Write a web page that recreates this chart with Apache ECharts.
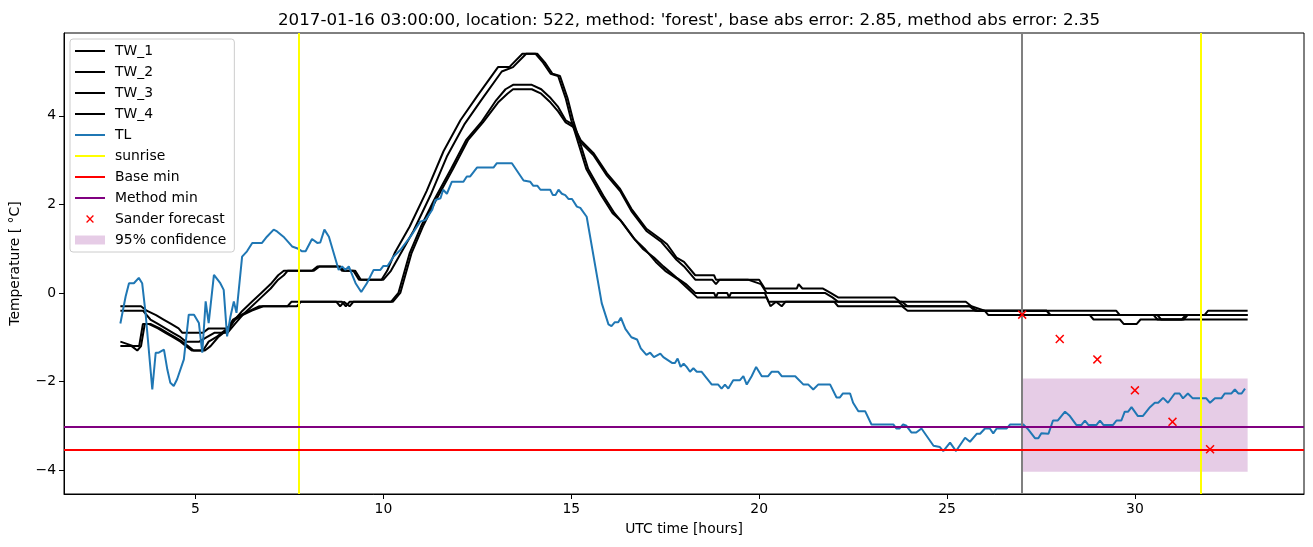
<!DOCTYPE html>
<html><head><meta charset="utf-8">
<script src="https://cdn.jsdelivr.net/npm/echarts@6/dist/echarts.min.js"></script>
<style>html,body{margin:0;padding:0;background:#fff}#c{width:1313px;height:547px}</style>
</head><body><div id="c"></div>
<script>
const TITLE = "2017-01-16 03:00:00, location: 522, method: 'forest', base abs error: 2.85, method abs error: 2.35";
const X_NAME = "UTC time [hours]";
const Y_NAME = "Temperature [ °C]";
const xTicks = [5, 10, 15, 20, 25, 30];
const yTicks = [-4, -2, 0, 2, 4];
const xRange = [1.5, 34.5];
const yRange = [-4.54, 5.87];

const tl = [[3.0,-0.69],[3.14,-0.08],[3.23,0.22],[3.36,0.22],[3.4,0.26],[3.49,0.34],[3.58,0.22],[3.67,-0.45],[3.85,-2.18],[3.94,-1.35],[4.02,-1.35],[4.16,-1.28],[4.25,-1.73],[4.33,-2.03],[4.42,-2.1],[4.51,-1.95],[4.69,-1.5],[4.82,-0.49],[4.96,-0.49],[5.09,-0.68],[5.18,-1.35],[5.27,-0.19],[5.35,-0.68],[5.49,0.41],[5.66,0.22],[5.75,0.07],[5.84,-0.98],[5.93,-0.53],[6.02,-0.19],[6.09,-0.45],[6.24,0.82],[6.37,0.94],[6.51,1.13],[6.77,1.13],[6.9,1.27],[7.08,1.43],[7.17,1.39],[7.34,1.27],[7.57,1.05],[7.7,1.01],[7.84,0.94],[7.93,0.94],[8.1,1.22],[8.24,1.13],[8.32,1.14],[8.43,1.43],[8.55,1.27],[8.81,0.52],[8.9,0.6],[8.99,0.52],[9.08,0.6],[9.17,0.41],[9.26,0.22],[9.41,0.02],[9.56,0.22],[9.74,0.52],[9.92,0.52],[10.0,0.61],[10.11,0.61],[10.27,0.82],[10.45,0.97],[10.72,1.27],[10.98,1.61],[11.12,1.65],[11.3,1.88],[11.38,2.1],[11.52,2.14],[11.59,2.33],[11.69,2.24],[11.82,2.51],[12.13,2.51],[12.22,2.63],[12.31,2.63],[12.49,2.83],[12.93,2.83],[13.02,2.93],[13.42,2.93],[13.73,2.54],[13.91,2.51],[13.99,2.42],[14.1,2.42],[14.18,2.33],[14.44,2.33],[14.51,2.21],[14.58,2.21],[14.66,2.33],[14.75,2.24],[14.84,2.21],[14.93,2.12],[15.02,2.12],[15.15,1.95],[15.24,1.92],[15.41,1.72],[15.81,-0.23],[15.99,-0.71],[16.07,-0.75],[16.16,-0.66],[16.25,-0.66],[16.32,-0.56],[16.44,-0.81],[16.6,-1.0],[16.75,-1.05],[16.85,-1.25],[17.0,-1.4],[17.1,-1.35],[17.2,-1.45],[17.37,-1.37],[17.45,-1.45],[17.68,-1.58],[17.76,-1.58],[17.83,-1.48],[17.91,-1.67],[17.99,-1.6],[18.07,-1.67],[18.16,-1.78],[18.25,-1.7],[18.34,-1.78],[18.47,-1.78],[18.74,-2.07],[18.91,-2.07],[19.0,-2.16],[19.09,-2.07],[19.18,-2.16],[19.31,-1.97],[19.49,-1.97],[19.58,-1.88],[19.67,-2.07],[19.8,-1.88],[19.92,-1.67],[20.07,-1.88],[20.24,-1.88],[20.33,-1.78],[20.51,-1.78],[20.6,-1.88],[20.96,-1.88],[21.18,-2.07],[21.31,-2.07],[21.44,-2.18],[21.57,-2.07],[21.89,-2.07],[22.06,-2.36],[22.15,-2.36],[22.23,-2.27],[22.42,-2.27],[22.5,-2.48],[22.64,-2.67],[22.82,-2.67],[22.99,-2.97],[23.57,-2.97],[23.65,-3.06],[23.74,-3.06],[23.83,-2.97],[23.92,-3.0],[24.05,-3.15],[24.18,-3.15],[24.32,-3.06],[24.64,-3.45],[24.81,-3.48],[24.9,-3.57],[25.08,-3.38],[25.24,-3.57],[25.48,-3.27],[25.61,-3.36],[25.79,-3.18],[25.88,-3.18],[26.01,-3.06],[26.14,-3.06],[26.23,-3.17],[26.32,-3.06],[26.59,-3.06],[26.68,-2.97],[27.03,-2.97],[27.16,-3.08],[27.34,-3.28],[27.43,-3.28],[27.51,-3.17],[27.7,-3.18],[27.82,-2.88],[27.95,-2.88],[28.14,-2.68],[28.27,-2.78],[28.44,-2.98],[28.58,-2.98],[28.67,-2.88],[28.76,-2.98],[28.98,-2.98],[29.07,-2.88],[29.16,-2.98],[29.42,-2.98],[29.51,-2.88],[29.64,-2.88],[29.73,-2.68],[29.82,-2.68],[29.91,-2.58],[30.08,-2.78],[30.21,-2.78],[30.4,-2.58],[30.53,-2.48],[30.62,-2.48],[30.75,-2.37],[30.88,-2.48],[31.06,-2.27],[31.19,-2.27],[31.28,-2.38],[31.41,-2.27],[31.54,-2.38],[31.9,-2.38],[32.0,-2.48],[32.13,-2.38],[32.3,-2.38],[32.39,-2.27],[32.57,-2.27],[32.66,-2.18],[32.75,-2.27],[32.84,-2.27],[32.93,-2.16]];

const tw1 = [[3.0,-0.3],[3.55,-0.3],[3.7,-0.4],[3.95,-0.5],[4.15,-0.6],[4.35,-0.7],[4.55,-0.8],[4.65,-0.9],[5.2,-0.9],[5.35,-0.8],[5.85,-0.8],[6.05,-0.6],[6.25,-0.4],[6.5,-0.2],[6.75,0.0],[7.0,0.2],[7.2,0.4],[7.35,0.5],[8.1,0.5],[8.25,0.6],[8.85,0.6],[8.95,0.5],[9.2,0.5],[9.35,0.3],[9.95,0.3],[10.1,0.5],[10.3,0.9],[10.7,1.5],[11.15,2.3],[11.6,3.2],[12.05,3.9],[12.5,4.45],[13.05,5.1],[13.35,5.1],[13.7,5.4],[14.05,5.4],[14.25,5.2],[14.45,4.95],[14.65,4.9],[14.85,4.4],[15.0,3.9],[15.4,2.8],[15.8,2.2],[16.1,1.8],[16.3,1.65],[16.65,1.25],[16.9,1.0],[17.2,0.8],[17.45,0.6],[17.8,0.35],[18.05,0.2],[18.3,0.0],[18.8,0.0],[18.85,-0.1],[18.9,0.0],[19.15,0.0],[19.2,-0.1],[19.25,0.0],[20.15,0.0],[20.25,-0.2],[23.7,-0.2],[23.85,-0.3],[25.6,-0.3],[25.75,-0.4],[27.65,-0.4],[27.75,-0.5],[30.6,-0.5],[30.7,-0.6],[31.25,-0.6],[31.35,-0.5],[33.0,-0.5]];
const tw2 = [[3.0,-0.4],[3.6,-0.4],[3.8,-0.6],[4.0,-0.7],[4.2,-0.8],[4.4,-0.9],[4.6,-1.0],[4.75,-1.1],[5.1,-1.1],[5.3,-1.0],[5.5,-0.9],[5.85,-0.9],[6.05,-0.7],[6.25,-0.5],[6.5,-0.3],[6.75,-0.1],[7.0,0.1],[7.2,0.3],[7.35,0.4],[7.45,0.5],[8.15,0.5],[8.3,0.6],[8.8,0.6],[8.9,0.5],[9.25,0.5],[9.4,0.3],[10.0,0.3],[10.2,0.5],[10.4,0.8],[10.8,1.4],[11.25,2.2],[11.7,3.1],[12.15,3.8],[12.6,4.35],[13.15,5.0],[13.45,5.1],[13.8,5.4],[14.1,5.4],[14.3,5.2],[14.5,4.95],[14.7,4.9],[14.9,4.4],[15.05,3.9],[15.45,2.8],[15.85,2.2],[16.15,1.8],[16.35,1.6],[16.7,1.2],[16.95,1.0],[17.25,0.7],[17.5,0.5],[17.85,0.3],[18.1,0.1],[18.35,-0.1],[20.2,-0.1],[20.3,-0.3],[20.45,-0.2],[20.6,-0.3],[20.7,-0.2],[22.0,-0.2],[22.1,-0.3],[23.8,-0.3],[23.95,-0.4],[26.0,-0.4],[26.1,-0.5],[30.5,-0.5],[30.6,-0.6],[31.3,-0.6],[31.4,-0.5],[33.0,-0.5]];
const tw3 = [[3.0,-1.1],[3.35,-1.2],[3.5,-1.2],[3.6,-0.7],[3.75,-0.7],[4.0,-0.8],[4.2,-0.9],[4.4,-1.0],[4.6,-1.1],[4.75,-1.2],[4.9,-1.3],[5.2,-1.3],[5.35,-1.1],[5.55,-1.0],[5.7,-0.9],[5.85,-0.8],[6.0,-0.6],[6.2,-0.5],[6.45,-0.4],[6.7,-0.3],[7.45,-0.3],[7.55,-0.2],[8.75,-0.2],[8.85,-0.3],[8.95,-0.2],[9.1,-0.3],[9.2,-0.2],[10.2,-0.2],[10.4,0.0],[10.7,0.9],[11.0,1.5],[11.35,2.1],[11.8,2.8],[12.2,3.45],[12.6,3.85],[13.0,4.35],[13.25,4.6],[13.45,4.7],[13.95,4.7],[14.2,4.6],[14.45,4.4],[14.65,4.2],[14.85,3.9],[15.05,3.8],[15.25,3.45],[15.6,3.15],[15.95,2.7],[16.3,2.35],[16.6,1.9],[17.0,1.45],[17.4,1.2],[17.55,1.1],[17.8,0.8],[18.0,0.7],[18.3,0.4],[18.8,0.4],[18.85,0.3],[20.0,0.3],[20.15,0.1],[21.0,0.1],[21.05,0.2],[21.15,0.1],[21.7,0.1],[21.9,0.0],[22.1,-0.1],[23.6,-0.1],[23.75,-0.2],[25.5,-0.2],[25.65,-0.3],[26.0,-0.4],[29.5,-0.4],[29.6,-0.5],[31.85,-0.5],[31.95,-0.4],[33.0,-0.4]];
const tw4 = [[3.0,-1.2],[3.3,-1.2],[3.45,-1.3],[3.55,-1.2],[3.65,-0.7],[3.8,-0.7],[4.05,-0.8],[4.25,-0.9],[4.45,-1.0],[4.65,-1.1],[4.8,-1.2],[4.95,-1.3],[5.25,-1.3],[5.4,-1.2],[5.6,-1.0],[5.75,-0.9],[5.9,-0.8],[6.05,-0.6],[6.25,-0.5],[6.5,-0.4],[6.8,-0.3],[7.7,-0.3],[7.8,-0.2],[8.9,-0.2],[9.0,-0.3],[9.1,-0.2],[10.25,-0.2],[10.45,0.0],[10.75,0.9],[11.05,1.5],[11.4,2.1],[11.85,2.8],[12.25,3.45],[12.65,3.85],[13.05,4.3],[13.3,4.5],[13.45,4.6],[13.95,4.6],[14.2,4.5],[14.45,4.3],[14.65,4.1],[14.85,3.85],[15.05,3.75],[15.25,3.4],[15.6,3.1],[15.95,2.65],[16.3,2.3],[16.6,1.85],[17.0,1.4],[17.4,1.15],[17.55,1.0],[17.8,0.75],[18.0,0.6],[18.3,0.3],[18.75,0.3],[18.85,0.2],[18.95,0.3],[19.7,0.3],[20.05,0.2],[20.2,0.0],[21.75,0.0],[21.95,-0.1],[22.1,-0.2],[23.8,-0.2],[23.95,-0.3],[25.6,-0.3],[25.8,-0.4],[27.65,-0.4],[27.75,-0.5],[28.8,-0.5],[28.9,-0.6],[29.6,-0.6],[29.7,-0.7],[30.05,-0.7],[30.15,-0.6],[33.0,-0.6]];

const sunriseTimes = [7.74, 31.74];
const forecastStart = 27;
const baseMin = -3.53;
const methodMin = -3.03;
const forecast = [[27,-0.49],[28,-1.04],[29,-1.5],[30,-2.2],[31,-2.91],[32,-3.53]];
const confidence = [[27, 33, -4.04, -1.93]];

const FONT = 'DejaVu Sans';
const X_PATH = 'path://M0,1.2L1.2,0L5,3.8L8.8,0L10,1.2L6.2,5L10,8.8L8.8,10L5,6.2L1.2,10L0,8.8L3.8,5Z';
const X_LEGEND = 'path://M0,1.2L1.2,0L5,3.8L8.8,0L10,1.2L6.2,5L10,8.8L8.8,10L5,6.2L1.2,10L0,8.8L3.8,5Z M-4,-4L-4,-4Z M14,14L14,14Z';
const RECT_LEGEND = 'path://M0,2.5L30,2.5L30,11.5L0,11.5Z M0,0L0,0Z M0,14L0,14Z';
const LINE_LEGEND = 'path://M0,6L30,6L30,8L0,8Z M0,0L0,0Z M0,14L0,14Z';
const BAND = 'rgba(128,0,128,0.2)';

function twSeries(name, data) {
  return {name, type:'line', data, symbol:'none', showSymbol:false, z:2,
    lineStyle:{color:'#000', width:2}, itemStyle:{color:'#000'}};
}
function vline(vals, color) {
  return {symbol:['none','none'], silent:true, label:{show:false}, animation:false,
    lineStyle:{color, width:2, type:'solid'}, emphasis:{disabled:true},
    data: vals.map(v => ({xAxis:v}))};
}
function hline(v, color) {
  return {symbol:['none','none'], silent:true, label:{show:false}, animation:false,
    lineStyle:{color, width:2, type:'solid'}, emphasis:{disabled:true},
    data: [{yAxis:v}]};
}

const chart = echarts.init(document.getElementById('c'), null, {renderer:'canvas'});
chart.setOption({
  animation:false,
  backgroundColor:'#fff',
  textStyle:{fontFamily:FONT, color:'#000'},
  title:{text:TITLE, left:684, top:7, textAlign:'center',
    textStyle:{fontFamily:FONT, fontSize:16.7, fontWeight:'normal', color:'#000'}},
  grid:{left:64, right:9, top:33, bottom:53, show:true, borderColor:'#000', borderWidth:1, backgroundColor:'transparent'},
  legend:{
    orient:'vertical', left:70, top:39, padding:[5,8,5,5], itemGap:7, itemWidth:30, itemHeight:14,
    backgroundColor:'rgba(255,255,255,0.8)', borderColor:'#cccccc', borderWidth:1, borderRadius:3,
    textStyle:{fontFamily:FONT, fontSize:13.9, color:'#000', padding:[0,0,0,5]},
    selectedMode:false,
    data:[
      {name:'TW_1', icon:LINE_LEGEND},{name:'TW_2', icon:LINE_LEGEND},{name:'TW_3', icon:LINE_LEGEND},
      {name:'TW_4', icon:LINE_LEGEND},{name:'TL', icon:LINE_LEGEND},
      {name:'sunrise', icon:LINE_LEGEND},{name:'Base min', icon:LINE_LEGEND},{name:'Method min', icon:LINE_LEGEND},
      {name:'Sander forecast', icon:X_LEGEND},
      {name:'95% confidence', icon:RECT_LEGEND}
    ]
  },
  xAxis:{type:'value', min:xRange[0], max:xRange[1],
    name:X_NAME, nameLocation:'middle', nameGap:28,
    nameTextStyle:{fontFamily:FONT, fontSize:13.9, color:'#000'},
    axisLine:{show:true, onZero:false, lineStyle:{color:'#000', width:1}},
    axisTick:{show:true, inside:false, length:5, customValues:xTicks, lineStyle:{color:'#000'}},
    axisLabel:{show:true, margin:8, customValues:xTicks, fontFamily:FONT, fontSize:13.9, color:'#000'},
    splitLine:{show:false}},
  yAxis:{type:'value', min:yRange[0], max:yRange[1],
    name:Y_NAME, nameLocation:'middle', nameGap:42,
    nameTextStyle:{fontFamily:FONT, fontSize:13.9, color:'#000'},
    axisLine:{show:true, onZero:false, lineStyle:{color:'#000', width:1}},
    axisTick:{show:true, inside:false, length:5, customValues:yTicks, lineStyle:{color:'#000'}},
    axisLabel:{show:true, margin:8, customValues:yTicks, fontFamily:FONT, fontSize:13.9, color:'#000',
      formatter: v => (v < 0 ? '\u2212' + Math.abs(v) : String(v))},
    splitLine:{show:false}},
  series:[
    {name:'95% confidence', type:'custom', z:1, data:confidence, encode:{x:[0,1], y:[2,3]},
      itemStyle:{color:BAND},
      renderItem:(params, api) => {
        const p0 = api.coord([api.value(0), api.value(3)]);
        const p1 = api.coord([api.value(1), api.value(2)]);
        return {type:'rect', shape:{x:p0[0], y:p0[1], width:p1[0]-p0[0], height:p1[1]-p0[1]},
          style:{fill:BAND}};
      }},
    twSeries('TW_1', tw1), twSeries('TW_2', tw2), twSeries('TW_3', tw3), twSeries('TW_4', tw4),
    {name:'TL', type:'line', data:tl, symbol:'none', showSymbol:false, z:3,
      lineStyle:{color:'#1f77b4', width:2}, itemStyle:{color:'#1f77b4'}},
    {name:'sunrise', type:'line', data:[], symbol:'none', z:4,
      lineStyle:{color:'#ffff00', width:2}, itemStyle:{color:'#ffff00'},
      markLine: vline(sunriseTimes, '#ffff00')},
    {name:'now', type:'line', data:[], symbol:'none', z:4,
      lineStyle:{color:'#808080', width:2}, itemStyle:{color:'#808080'},
      markLine: vline([forecastStart], '#808080')},
    {name:'Base min', type:'line', data:[], symbol:'none', z:4,
      lineStyle:{color:'#ff0000', width:2}, itemStyle:{color:'#ff0000'},
      markLine: hline(baseMin, '#ff0000')},
    {name:'Method min', type:'line', data:[], symbol:'none', z:4,
      lineStyle:{color:'#800080', width:2}, itemStyle:{color:'#800080'},
      markLine: hline(methodMin, '#800080')},
    {name:'Sander forecast', type:'scatter', data:forecast, z:5,
      symbol:X_PATH, symbolSize:9, itemStyle:{color:'#ff0000', opacity:1}}
  ]
});
</script></body></html>
